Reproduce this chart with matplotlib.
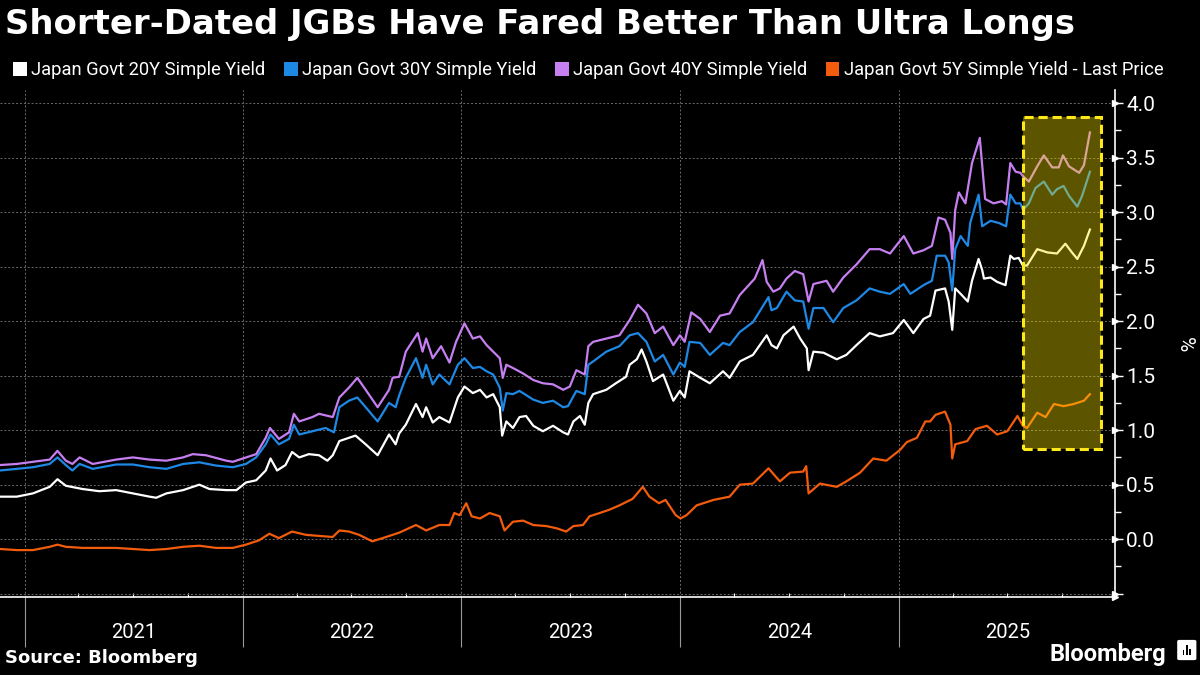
import matplotlib.pyplot as plt
import matplotlib.dates as mdates
import matplotlib.transforms as mtransforms
import numpy as np
import pandas as pd
from matplotlib.patches import Rectangle, Patch, FancyBboxPatch

plt.rcParams['font.family'] = ['Roboto', 'DejaVu Sans']

# --- data -------------------------------------------------------------------
dates_20y = ['2020-11-21', '2020-12-19', '2021-01-15', '2021-02-12', '2021-02-25', '2021-03-11',
             '2021-04-08', '2021-05-06', '2021-06-03', '2021-07-01', '2021-07-29', '2021-08-09',
             '2021-08-26', '2021-09-23', '2021-10-20', '2021-11-06', '2021-12-04', '2021-12-21',
             '2022-01-06', '2022-01-23', '2022-02-08', '2022-02-16', '2022-02-27', '2022-03-13',
             '2022-03-24', '2022-04-05', '2022-04-21', '2022-05-08', '2022-05-22', '2022-05-31',
             '2022-06-11', '2022-06-22', '2022-07-08', '2022-07-25', '2022-08-14', '2022-09-02',
             '2022-09-13', '2022-09-19', '2022-09-30', '2022-10-17', '2022-10-28', '2022-11-03',
             '2022-11-14', '2022-11-25', '2022-12-12', '2022-12-26', '2023-01-06', '2023-01-20',
             '2023-02-01', '2023-02-12', '2023-02-23', '2023-03-06', '2023-03-10', '2023-03-17',
             '2023-03-28', '2023-04-08', '2023-04-19', '2023-05-01', '2023-05-17', '2023-06-03',
             '2023-06-20', '2023-06-28', '2023-07-07', '2023-07-18', '2023-07-26', '2023-08-01',
             '2023-08-09', '2023-08-31', '2023-09-16', '2023-10-03', '2023-10-09', '2023-10-21',
             '2023-10-29', '2023-11-06', '2023-11-17', '2023-12-04', '2023-12-21', '2024-01-01',
             '2024-01-09', '2024-01-17', '2024-02-04', '2024-02-20', '2024-03-13', '2024-03-24',
             '2024-04-10', '2024-05-02', '2024-05-25', '2024-06-02', '2024-06-11', '2024-06-22',
             '2024-07-09', '2024-07-20', '2024-07-31', '2024-08-03', '2024-08-11', '2024-08-28',
             '2024-09-19', '2024-10-05', '2024-10-22', '2024-11-13', '2024-11-30', '2024-12-22',
             '2025-01-09', '2025-01-25', '2025-02-11', '2025-02-22', '2025-03-03', '2025-03-19',
             '2025-03-25', '2025-03-31', '2025-04-05', '2025-04-14', '2025-04-26', '2025-05-03',
             '2025-05-14', '2025-05-20', '2025-05-23', '2025-06-03', '2025-06-14', '2025-06-28',
             '2025-07-06', '2025-07-12', '2025-07-20', '2025-07-27', '2025-08-03', '2025-08-20',
             '2025-09-06', '2025-09-22', '2025-10-06', '2025-10-17', '2025-10-26', '2025-11-06',
             '2025-11-16']
yield_20y = [0.39, 0.39, 0.42, 0.48, 0.55, 0.49,
             0.46, 0.44, 0.45, 0.42, 0.39, 0.38,
             0.42, 0.45, 0.50, 0.46, 0.45, 0.45,
             0.52, 0.54, 0.63, 0.74, 0.63, 0.68,
             0.80, 0.75, 0.78, 0.77, 0.72, 0.77,
             0.90, 0.92, 0.95, 0.87, 0.77, 0.96,
             0.87, 0.97, 1.05, 1.24, 1.12, 1.21,
             1.07, 1.12, 1.07, 1.30, 1.40, 1.34,
             1.37, 1.30, 1.33, 1.21, 0.95, 1.08,
             1.02, 1.12, 1.13, 1.04, 0.99, 1.04,
             0.98, 0.96, 1.08, 1.13, 1.05, 1.25,
             1.33, 1.37, 1.43, 1.49, 1.60, 1.65,
             1.74, 1.63, 1.45, 1.51, 1.27, 1.36,
             1.30, 1.54, 1.48, 1.43, 1.54, 1.48,
             1.63, 1.69, 1.87, 1.78, 1.75, 1.87,
             1.95, 1.84, 1.75, 1.55, 1.72, 1.71,
             1.65, 1.69, 1.78, 1.89, 1.86, 1.89,
             2.01, 1.89, 2.02, 2.05, 2.28, 2.30,
             2.18, 1.92, 2.30, 2.25, 2.18, 2.37,
             2.57, 2.47, 2.39, 2.40, 2.36, 2.33,
             2.60, 2.57, 2.58, 2.51, 2.51, 2.66,
             2.63, 2.62, 2.71, 2.63, 2.57, 2.69,
             2.84]

dates_30y = ['2020-11-21', '2020-12-19', '2021-01-15', '2021-02-12', '2021-02-25', '2021-03-11',
             '2021-03-22', '2021-04-03', '2021-04-25', '2021-06-03', '2021-07-01', '2021-07-29',
             '2021-08-26', '2021-09-23', '2021-10-20', '2021-11-17', '2021-12-15', '2022-01-06',
             '2022-01-23', '2022-02-08', '2022-02-16', '2022-03-02', '2022-03-19', '2022-03-27',
             '2022-04-05', '2022-04-27', '2022-05-19', '2022-06-02', '2022-06-11', '2022-06-27',
             '2022-07-11', '2022-07-25', '2022-08-14', '2022-09-02', '2022-09-13', '2022-09-19',
             '2022-09-30', '2022-10-17', '2022-10-28', '2022-11-03', '2022-11-14', '2022-11-25',
             '2022-12-12', '2022-12-26', '2023-01-06', '2023-01-20', '2023-02-01', '2023-02-12',
             '2023-02-23', '2023-03-06', '2023-03-11', '2023-03-17', '2023-03-28', '2023-04-08',
             '2023-05-01', '2023-05-17', '2023-06-03', '2023-06-20', '2023-06-28', '2023-07-12',
             '2023-07-26', '2023-08-01', '2023-08-09', '2023-08-31', '2023-09-22', '2023-10-09',
             '2023-10-23', '2023-11-06', '2023-11-20', '2023-12-04', '2023-12-21', '2024-01-01',
             '2024-01-09', '2024-01-17', '2024-02-04', '2024-02-20', '2024-03-13', '2024-03-24',
             '2024-04-10', '2024-05-02', '2024-05-28', '2024-06-02', '2024-06-11', '2024-06-27',
             '2024-07-11', '2024-07-25', '2024-08-03', '2024-08-11', '2024-08-28', '2024-09-13',
             '2024-09-30', '2024-10-22', '2024-11-13', '2024-11-30', '2024-12-17', '2025-01-09',
             '2025-01-20', '2025-02-11', '2025-02-25', '2025-03-05', '2025-03-19', '2025-03-25',
             '2025-03-31', '2025-04-05', '2025-04-14', '2025-04-26', '2025-04-30', '2025-05-14',
             '2025-05-20', '2025-06-03', '2025-06-17', '2025-06-29', '2025-07-06', '2025-07-15',
             '2025-07-23', '2025-07-27', '2025-08-06', '2025-08-17', '2025-08-31', '2025-09-14',
             '2025-09-22', '2025-10-03', '2025-10-12', '2025-10-26', '2025-11-03', '2025-11-16']
yield_30y = [0.63, 0.645, 0.66, 0.69, 0.75, 0.68,
             0.63, 0.69, 0.645, 0.685, 0.685, 0.66,
             0.645, 0.69, 0.705, 0.675, 0.66, 0.69,
             0.75, 0.87, 0.96, 0.87, 0.92, 1.05,
             0.96, 0.99, 1.02, 0.98, 1.21, 1.27,
             1.30, 1.21, 1.08, 1.25, 1.21, 1.32,
             1.48, 1.66, 1.48, 1.60, 1.42, 1.51,
             1.42, 1.60, 1.66, 1.57, 1.58, 1.54,
             1.51, 1.39, 1.18, 1.34, 1.33, 1.36,
             1.28, 1.25, 1.27, 1.21, 1.22, 1.36,
             1.33, 1.60, 1.63, 1.72, 1.77, 1.87,
             1.89, 1.81, 1.63, 1.69, 1.51, 1.62,
             1.58, 1.81, 1.80, 1.69, 1.80, 1.78,
             1.90, 1.99, 2.22, 2.10, 2.12, 2.27,
             2.19, 2.18, 1.93, 2.12, 2.12, 1.99,
             2.12, 2.19, 2.30, 2.27, 2.25, 2.34,
             2.25, 2.33, 2.37, 2.60, 2.60, 2.54,
             2.28, 2.66, 2.78, 2.69, 2.90, 3.16,
             2.87, 2.92, 2.90, 2.87, 3.16, 3.08,
             3.08, 3.02, 3.08, 3.22, 3.28, 3.16,
             3.21, 3.24, 3.15, 3.05, 3.15, 3.37]

dates_40y = ['2020-11-21', '2020-12-19', '2021-01-15', '2021-02-12', '2021-02-25', '2021-03-11',
             '2021-03-22', '2021-04-03', '2021-04-25', '2021-06-03', '2021-07-01', '2021-07-29',
             '2021-08-26', '2021-09-23', '2021-10-09', '2021-10-31', '2021-12-04', '2021-12-15',
             '2022-01-06', '2022-01-23', '2022-02-08', '2022-02-15', '2022-03-02', '2022-03-19',
             '2022-03-27', '2022-04-05', '2022-04-27', '2022-05-08', '2022-05-31', '2022-06-11',
             '2022-06-27', '2022-07-11', '2022-07-25', '2022-08-14', '2022-09-02', '2022-09-08',
             '2022-09-19', '2022-09-30', '2022-10-20', '2022-10-28', '2022-11-03', '2022-11-14',
             '2022-11-28', '2022-12-12', '2022-12-23', '2023-01-06', '2023-01-20', '2023-02-01',
             '2023-02-12', '2023-02-23', '2023-03-06', '2023-03-11', '2023-03-17', '2023-03-28',
             '2023-04-14', '2023-05-01', '2023-05-17', '2023-06-03', '2023-06-20', '2023-07-01',
             '2023-07-12', '2023-07-26', '2023-08-01', '2023-08-09', '2023-08-31', '2023-09-22',
             '2023-10-09', '2023-10-23', '2023-11-06', '2023-11-20', '2023-12-04', '2023-12-21',
             '2024-01-01', '2024-01-09', '2024-01-20', '2024-02-04', '2024-02-20', '2024-03-08',
             '2024-03-24', '2024-04-10', '2024-05-05', '2024-05-18', '2024-05-25', '2024-06-05',
             '2024-06-16', '2024-06-27', '2024-07-11', '2024-07-25', '2024-08-03', '2024-08-11',
             '2024-09-02', '2024-09-13', '2024-09-30', '2024-10-22', '2024-11-13', '2024-11-30',
             '2024-12-17', '2025-01-09', '2025-01-25', '2025-02-11', '2025-02-25', '2025-03-08',
             '2025-03-19', '2025-03-28', '2025-03-31', '2025-04-05', '2025-04-11', '2025-04-22',
             '2025-05-03', '2025-05-16', '2025-05-20', '2025-05-25', '2025-06-08', '2025-06-22',
             '2025-06-29', '2025-07-06', '2025-07-15', '2025-07-23', '2025-07-27', '2025-08-06',
             '2025-08-20', '2025-08-31', '2025-09-14', '2025-09-25', '2025-10-02', '2025-10-12',
             '2025-10-29', '2025-11-06', '2025-11-16']
yield_40y = [0.68, 0.69, 0.71, 0.73, 0.81, 0.72,
             0.69, 0.75, 0.69, 0.73, 0.75, 0.73,
             0.72, 0.75, 0.78, 0.77, 0.72, 0.71,
             0.75, 0.78, 0.93, 1.02, 0.92, 0.98,
             1.15, 1.08, 1.12, 1.15, 1.12, 1.30,
             1.39, 1.48, 1.37, 1.21, 1.37, 1.48,
             1.49, 1.72, 1.89, 1.72, 1.84, 1.66,
             1.77, 1.62, 1.81, 1.98, 1.84, 1.86,
             1.78, 1.72, 1.66, 1.48, 1.60, 1.57,
             1.52, 1.46, 1.43, 1.42, 1.37, 1.40,
             1.55, 1.51, 1.77, 1.81, 1.84, 1.87,
             2.01, 2.15, 2.07, 1.89, 1.95, 1.78,
             1.87, 1.81, 2.08, 2.02, 1.90, 2.05,
             2.07, 2.24, 2.39, 2.56, 2.36, 2.27,
             2.30, 2.39, 2.46, 2.43, 2.18, 2.34,
             2.37, 2.27, 2.40, 2.52, 2.66, 2.66,
             2.62, 2.78, 2.62, 2.65, 2.69, 2.95,
             2.93, 2.81, 2.57, 3.02, 3.18, 3.08,
             3.45, 3.68, 3.43, 3.12, 3.08, 3.10,
             3.07, 3.45, 3.37, 3.36, 3.33, 3.28,
             3.42, 3.52, 3.41, 3.41, 3.52, 3.42,
             3.36, 3.43, 3.73]

dates_5y = ['2020-11-21', '2020-12-19', '2021-01-15', '2021-02-12', '2021-02-25', '2021-03-11',
            '2021-04-08', '2021-05-06', '2021-06-03', '2021-07-01', '2021-07-29', '2021-08-26',
            '2021-09-23', '2021-10-20', '2021-11-17', '2021-12-15', '2022-01-06', '2022-01-28',
            '2022-02-14', '2022-03-02', '2022-03-24', '2022-04-16', '2022-05-08', '2022-05-31',
            '2022-06-11', '2022-06-27', '2022-07-14', '2022-08-05', '2022-08-28', '2022-09-19',
            '2022-10-17', '2022-11-03', '2022-11-25', '2022-12-12', '2022-12-20', '2022-12-29',
            '2023-01-09', '2023-01-18', '2023-02-01', '2023-02-17', '2023-03-06', '2023-03-14',
            '2023-03-28', '2023-04-14', '2023-05-01', '2023-05-23', '2023-06-09', '2023-06-25',
            '2023-07-07', '2023-07-23', '2023-08-03', '2023-08-20', '2023-09-05', '2023-09-22',
            '2023-10-14', '2023-10-31', '2023-11-11', '2023-11-27', '2023-12-08', '2023-12-25',
            '2024-01-02', '2024-01-12', '2024-01-29', '2024-02-26', '2024-03-24', '2024-04-10',
            '2024-05-02', '2024-05-28', '2024-06-16', '2024-07-03', '2024-07-25', '2024-07-30',
            '2024-08-03', '2024-08-22', '2024-09-19', '2024-10-05', '2024-10-28', '2024-11-19',
            '2024-12-11', '2025-01-03', '2025-01-14', '2025-01-31', '2025-02-14', '2025-02-22',
            '2025-03-03', '2025-03-19', '2025-03-28', '2025-03-31', '2025-04-05', '2025-04-25',
            '2025-05-09', '2025-05-28', '2025-06-14', '2025-07-01', '2025-07-18', '2025-07-27',
            '2025-08-03', '2025-08-20', '2025-09-03', '2025-09-17', '2025-10-03', '2025-10-20',
            '2025-11-06', '2025-11-16']
yield_5y = [-0.09, -0.10, -0.10, -0.07, -0.05, -0.07,
            -0.08, -0.08, -0.08, -0.09, -0.10, -0.09,
            -0.07, -0.06, -0.08, -0.08, -0.05, -0.01,
            0.05, 0.01, 0.07, 0.04, 0.03, 0.02,
            0.08, 0.07, 0.04, -0.02, 0.02, 0.06,
            0.13, 0.08, 0.13, 0.13, 0.24, 0.22,
            0.33, 0.21, 0.19, 0.24, 0.21, 0.08,
            0.16, 0.17, 0.13, 0.12, 0.10, 0.07,
            0.12, 0.13, 0.21, 0.24, 0.27, 0.31,
            0.37, 0.48, 0.39, 0.33, 0.36, 0.22,
            0.19, 0.22, 0.31, 0.36, 0.39, 0.50,
            0.51, 0.65, 0.53, 0.61, 0.62, 0.67,
            0.42, 0.51, 0.48, 0.53, 0.61, 0.74,
            0.72, 0.82, 0.89, 0.93, 1.08, 1.08,
            1.14, 1.17, 1.05, 0.74, 0.87, 0.90,
            1.01, 1.04, 0.96, 0.99, 1.13, 1.04,
            1.02, 1.16, 1.12, 1.24, 1.22, 1.24,
            1.27, 1.33]

labels = ['Japan Govt 20Y Simple Yield', 'Japan Govt 30Y Simple Yield',
          'Japan Govt 40Y Simple Yield', 'Japan Govt 5Y Simple Yield - Last Price']
colors = ['#ffffff', '#1e88e5', '#c67ff0', '#f25c0c']
years = [2021, 2022, 2023, 2024, 2025]

# highlighted window (dashed box)
box_start, box_end = '2025-07-27', '2025-12-05'
box_low, box_high = 0.83, 3.87

series = [(dates_20y, yield_20y), (dates_30y, yield_30y),
          (dates_40y, yield_40y), (dates_5y, yield_5y)]

fig = plt.figure(figsize=(12, 6.75), dpi=100, facecolor='black')
ax = fig.add_axes([0, 0.1156, 0.9292, 0.7511])
ax.set_facecolor('black')

for (d, v), c in zip(series, colors):
    ax.plot(pd.to_datetime(d), v, color=c, lw=1.6, solid_joinstyle='round', zorder=3)

# highlight box: translucent yellow over the lines, dashed yellow edge
x0 = mdates.date2num(pd.Timestamp(box_start))
x1 = mdates.date2num(pd.Timestamp(box_end))
ax.add_patch(Rectangle((x0, box_low), x1 - x0, box_high - box_low,
                       facecolor=(1.0, 0.9, 0.0, 0.37), edgecolor='none', zorder=5))
ax.add_patch(Rectangle((x0, box_low), x1 - x0, box_high - box_low,
                       facecolor='none', edgecolor='#ffe81a', lw=2.2,
                       linestyle=(0, (3, 1.6)), zorder=6))

ax.set_xlim(pd.Timestamp('2020-11-21'), pd.Timestamp('2025-12-28'))
ax.set_ylim(-0.53, 4.12)

# axes styling
for s in ['top', 'left']:
    ax.spines[s].set_visible(False)
ax.spines['bottom'].set_color('white')
ax.spines['right'].set_color('white')
ax.spines['bottom'].set_linewidth(1.2)
ax.spines['right'].set_linewidth(1.2)

ax.xaxis.set_major_locator(mdates.YearLocator())
ax.xaxis.set_minor_locator(mdates.MonthLocator(bymonth=[4, 7, 10]))
ax.xaxis.set_major_formatter(plt.NullFormatter())
ax.tick_params(axis='x', which='major', direction='out', length=36, width=0.8, color='#9a9a9a')
ax.tick_params(axis='x', which='minor', direction='in', length=3, width=0.8, color='white')

yt = np.arange(-0.5, 4.01, 0.5)
ax.yaxis.tick_right()
ax.set_yticks(yt)
ax.set_yticklabels(['' if v < 0 else f'{v:.1f}' for v in yt])
ax.set_yticks(np.arange(-0.25, 4.0, 0.5), minor=True)
ax.tick_params(axis='y', which='major', direction='out', length=6, width=1.0, color='white',
               labelcolor='white', labelsize=15, pad=2)
ax.tick_params(axis='y', which='minor', direction='out', length=4, width=1, color='white')
# small triangle heads on the major y ticks
ax.plot(np.ones(len(yt)), yt, linestyle='none', marker='>', markersize=4, color='white',
        transform=mtransforms.blended_transform_factory(ax.transAxes, ax.transData),
        clip_on=False, zorder=7)

ax.grid(axis='y', which='major', color='#6a6a6a', linestyle=(0, (2, 2)), lw=0.7)
ax.grid(axis='x', which='major', color='#6a6a6a', linestyle=(0, (2, 2)), lw=0.7)

# arrow at the end of the x axis
ax.plot([1.0], [0.0], marker='>', color='white', markersize=5, transform=ax.transAxes, clip_on=False)

trans = mtransforms.blended_transform_factory(ax.transData, ax.transAxes)
for yr in years:
    ax.text(pd.Timestamp(f'{yr}-07-02'), -0.071, str(yr), transform=trans,
            ha='center', va='center', color='white', fontsize=14.5)

fig.text(0.987, 0.49, '%', rotation=270, color='white', fontsize=15, ha='center', va='center')

fig.text(0.004, 0.988, 'Shorter-Dated JGBs Have Fared Better Than Ultra Longs',
         color='white', fontsize=24.4, fontweight='bold', ha='left', va='top',
         family=['DejaVu Sans'])

handles = [Patch(facecolor=c, edgecolor='none') for c in colors]
fig.legend(handles, labels, loc='upper left', bbox_to_anchor=(0.0, 0.928), ncol=4,
           frameon=False, fontsize=13.2, labelcolor='white', handlelength=0.75, handleheight=0.75,
           handletextpad=0.25, columnspacing=1.0, borderaxespad=0.3)

fig.text(0.004, 0.012, 'Source: Bloomberg', color='white', fontsize=13, fontweight='bold',
         ha='left', va='bottom', family=['DejaVu Sans'])
fig.text(0.972, 0.014, 'Bloomberg', color='white', fontsize=17, fontweight='bold',
         ha='right', va='bottom')
fig.patches.append(FancyBboxPatch((0.983, 0.024), 0.012, 0.026, boxstyle='round,pad=0.002',
                                  transform=fig.transFigure, facecolor='white', edgecolor='none'))
for i, h in enumerate([0.008, 0.015, 0.010]):
    fig.patches.append(Rectangle((0.9855 + i * 0.0028, 0.029), 0.0015, h,
                                 transform=fig.transFigure, facecolor='black', edgecolor='none'))

fig.savefig('out.png', dpi=100, facecolor='black')
